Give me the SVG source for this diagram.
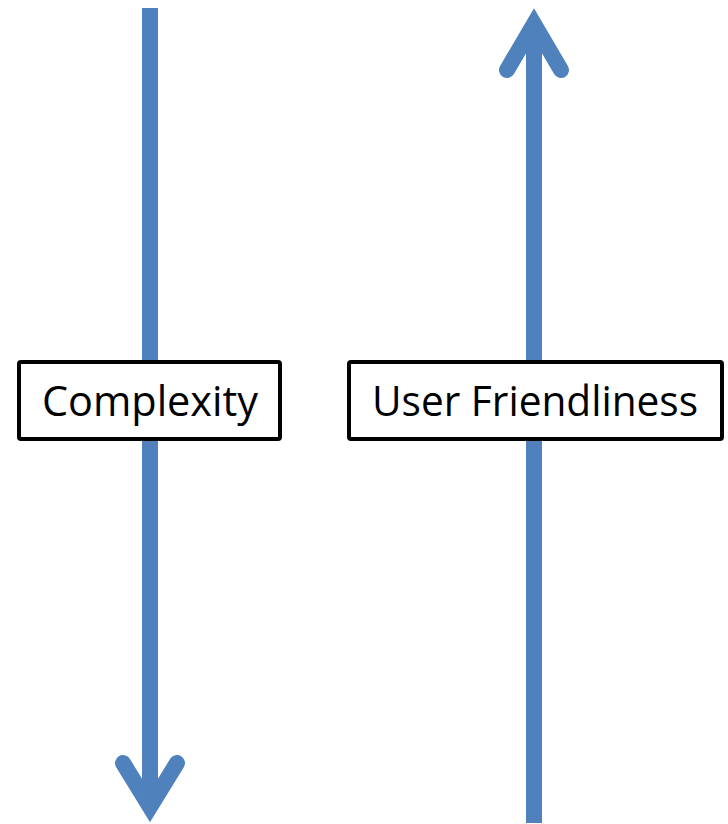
<svg xmlns="http://www.w3.org/2000/svg" width="728" height="824" viewBox="0 0 728 824">
  <style>
    .shaft { stroke: #4F81BD; stroke-width: 16; fill: none; stroke-linecap: butt; }
    .head { stroke: #4F81BD; stroke-width: 16; fill: none; stroke-linecap: round; stroke-linejoin: miter; stroke-miterlimit: 10; }
    .box { fill: #ffffff; stroke: #000000; stroke-width: 4; }
    .label { font-family: "Open Sans", "Noto Sans", sans-serif; font-size: 42px; fill: #000000; text-anchor: middle; }
  </style>
  <rect width="728" height="824" fill="#ffffff"/>
  <g id="connectors">
    <!-- downward arrow -->
    <line class="shaft" x1="150" y1="8" x2="150" y2="806"/>
    <polyline class="head" points="123,763 150,807 177,763"/>
    <!-- upward arrow -->
    <line class="shaft" x1="534" y1="823" x2="534" y2="25"/>
    <polyline class="head" points="507,70 534,24 561,70"/>
  </g>
  <g id="complexity">
    <rect class="box" x="19" y="362" width="261" height="77" rx="2"/>
    <text class="label" x="150" y="416" textLength="216" lengthAdjust="spacingAndGlyphs">Complexity</text>
  </g>
  <g id="user-friendliness">
    <rect class="box" x="349" y="362" width="373" height="77" rx="2"/>
    <text class="label" x="535" y="416" textLength="326" lengthAdjust="spacingAndGlyphs">User Friendliness</text>
  </g>
</svg>
